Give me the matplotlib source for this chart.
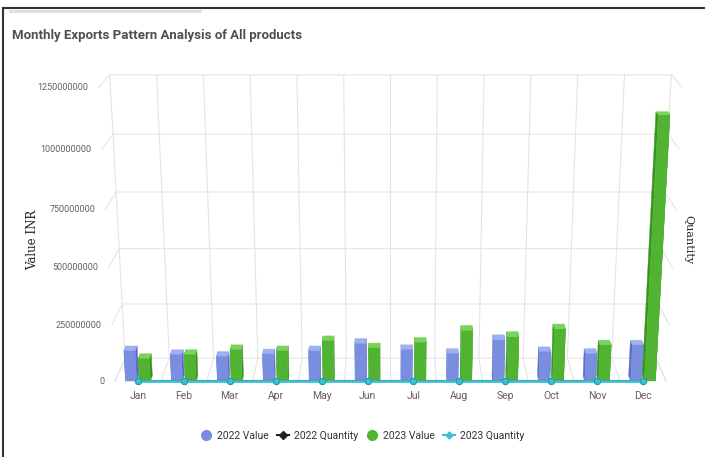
import numpy as np
import matplotlib
matplotlib.use("Agg")
import matplotlib.pyplot as plt
from matplotlib.lines import Line2D
from mpl_toolkits.mplot3d.art3d import Poly3DCollection

# ---- data -------------------------------------------------------------
months = ["Jan", "Feb", "Mar", "Apr", "May", "Jun",
          "Jul", "Aug", "Sep", "Oct", "Nov", "Dec"]
value_2022 = [135000000, 118000000, 110000000, 121000000, 135000000, 168000000,
              140000000, 123000000, 185000000, 131000000, 123000000, 161000000]
value_2023 = [100000000, 118000000, 140000000, 135000000, 180000000, 148000000,
              173000000, 227000000, 199000000, 233000000, 161000000, 1140000000]
quantity_2022 = [0, 0, 0, 0, 0, 0, 0, 0, 0, 0, 0, 0]
quantity_2023 = [0, 0, 0, 0, 0, 0, 0, 0, 0, 0, 0, 0]
value_ticks = [0, 250000000, 500000000, 750000000, 1000000000, 1250000000]
series_names = ["2022 Value", "2022 Quantity", "2023 Value", "2023 Quantity"]

# ---- style ------------------------------------------------------------
plt.rcParams["font.family"] = ["Roboto", "DejaVu Sans"]
BLUE, BLUE_TOP, BLUE_SIDE = "#7a8ee0", "#9fb0f2", "#5b6dc2"
GREEN, GREEN_TOP, GREEN_SIDE = "#50b432", "#7ad35a", "#3a9320"
TEAL = "#3fc0d1"
GRID = "#e4e4e4"
LABEL = "#606060"

W, H = 705, 457
fig = plt.figure(figsize=(W / 100, H / 100), dpi=100, facecolor="white")

# ---- 3D chart frame ---------------------------------------------------
ax = fig.add_axes([0, 0, 1, 1], projection="3d")
ax.set_proj_type("persp", focal_length=0.46)
ax.view_init(elev=17, azim=-90)
ax.set_box_aspect((1.8, 0.2, 0.975))
x_lo, x_hi = -0.5, len(months) - 0.5
z_hi = value_ticks[-1]
ax.set_xlim(x_lo, x_hi)
ax.set_ylim(0, 1)
ax.set_zlim(0, z_hi)
ax.set_axis_off()
ax.computed_zorder = False
ax.set_facecolor("none")

# value grid: left side wall -> back wall -> right side wall
for t in value_ticks:
    ax.plot([x_lo, x_lo, x_hi, x_hi], [0, 1, 1, 0], [t] * 4,
            color=GRID, lw=0.8, zorder=1)
# category grid: along the floor, then up the back wall
for k in range(len(months) + 1):
    xb = x_lo + k
    ax.plot([xb, xb, xb], [0, 1, 1], [0, 0, z_hi], color=GRID, lw=0.8, zorder=1)


def box_faces(x0, x1, d, h):
    front = [(x0, 0, 0), (x1, 0, 0), (x1, 0, h), (x0, 0, h)]
    top = [(x0, 0, h), (x1, 0, h), (x1, d, h), (x0, d, h)]
    left = [(x0, 0, 0), (x0, d, 0), (x0, d, h), (x0, 0, h)]
    right = [(x1, 0, 0), (x1, d, 0), (x1, d, h), (x1, 0, h)]
    return [left, right, top, front]


bar_depth = 0.22
verts, colors = [], []
for values, (a, b), (c_front, c_top, c_side) in [
        (value_2022, (-0.27, -0.03), (BLUE, BLUE_TOP, BLUE_SIDE)),
        (value_2023, (0.03, 0.27), (GREEN, GREEN_TOP, GREEN_SIDE))]:
    for i, v in enumerate(values):
        verts += box_faces(i + a, i + b, bar_depth, v)
        colors += [c_side, c_side, c_top, c_front]
bars = Poly3DCollection(verts, facecolors=colors, edgecolors=colors,
                        linewidths=0.3, zorder=2)
ax.add_collection3d(bars)

xs = np.arange(len(months))
ax.plot(xs, np.zeros(len(months)), quantity_2022, color="#222222", lw=1.5,
        marker="o", ms=3.5, zorder=3)
ax.plot(xs, np.zeros(len(months)), quantity_2023, color=TEAL, lw=2,
        marker="o", ms=4.5, mfc=TEAL, mec="#1f9fb2", mew=0.8, zorder=4)

# ---- place the chart so its front baseline spans the plot area -------
fig.canvas.draw()


def to_px(x, y, z):
    M = ax.get_proj()
    p = np.column_stack([np.atleast_1d(x), np.atleast_1d(y),
                         np.atleast_1d(z), np.ones(np.size(x))]).astype(float)
    q = p @ M.T
    return ax.transData.transform(np.column_stack([q[:, 0] / q[:, 3],
                                                   q[:, 1] / q[:, 3]]))


pos = ax.get_position()
bx, by, bw, bh = pos.x0 * W, pos.y0 * H, pos.width * W, pos.height * H
ends = to_px([x_lo, x_hi], [0, 0], [0, 0])
left_px, right_px, base_px = 115.0, 666.0, H - 381.0
k = (right_px - left_px) / (ends[1, 0] - ends[0, 0])
ux = (ends[0, 0] - bx) / bw
uy = (ends[0, 1] - by) / bh
nbw, nbh = bw * k, bh * k
ax.set_position([(left_px - ux * nbw) / W, (base_px - uy * nbh) / H,
                 nbw / W, nbh / H])

# ---- axis labels at the projected front edge ---------------------------
tick_px = to_px([x_lo] * len(value_ticks), [0] * len(value_ticks), value_ticks)
for t, (px, py) in zip(value_ticks, tick_px):
    fig.text((px - 10) / W, py / H, f"{t}", ha="right", va="center",
             fontsize=6.5, color=LABEL)
month_px = to_px(xs, np.zeros(len(months)), np.zeros(len(months)))
for m, (px, py) in zip(months, month_px):
    fig.text(px / W, (py - 15) / H, m, ha="center", va="center",
             fontsize=7.5, color=LABEL)

# ---- titles and legend -------------------------------------------------
fig.text(12 / W, 1 - 35 / H, "Monthly Exports Pattern Analysis of All products",
         fontsize=9.5, fontweight="bold", color="#4a5056", va="center")
fig.text(33 / W, 1 - 240 / H, "Value INR", rotation=90, ha="center", va="center",
         family="DejaVu Serif", fontsize=8.5, color="#222222")
fig.text(688 / W, 1 - 240 / H, "Quantity", rotation=270, ha="center", va="center",
         family="DejaVu Serif", fontsize=8, color="#222222")

handles = [
    Line2D([0], [0], ls="None", marker="o", ms=7, mfc=BLUE, mec=BLUE),
    Line2D([0], [0], color="#222222", lw=1.5, marker="D", ms=4),
    Line2D([0], [0], ls="None", marker="o", ms=7, mfc=GREEN, mec=GREEN),
    Line2D([0], [0], color=TEAL, lw=1.5, marker="D", ms=3.5),
]
fig.legend(handles, series_names, loc="center", bbox_to_anchor=(362 / W, 1 - 436 / H),
           ncol=4, frameon=False, fontsize=7.5, handlelength=1.2,
           handletextpad=0.4, columnspacing=0.8, labelcolor="#333333")

# page frame
fig.add_artist(Line2D([3 / W, 3 / W], [0, 1 - 8 / H], transform=fig.transFigure,
                      color="#333333", lw=1.5))
fig.add_artist(Line2D([3 / W, 1], [1 - 8 / H, 1 - 8 / H], transform=fig.transFigure,
                      color="#333333", lw=1.5))
fig.add_artist(Line2D([10 / W, 200 / W], [1 - 11 / H, 1 - 11 / H],
                      transform=fig.transFigure, color="#dcdcdc", lw=2))

fig.savefig("out.png", dpi=100, facecolor="white")
